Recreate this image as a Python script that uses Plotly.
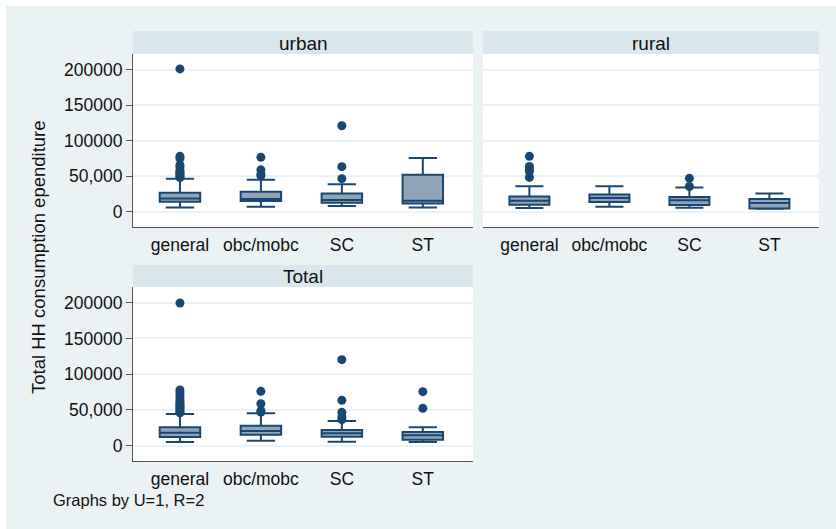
import plotly.graph_objects as go

W, H = 836, 529

categories = ["general", "obc/mobc", "SC", "ST"]

# ---- box statistics ----
urban_q1 = [14000, 15000, 12700, 11700]
urban_median = [18700, 17900, 16400, 15500]
urban_q3 = [26800, 28200, 25800, 52000]
urban_low = [6000, 7000, 8000, 6000]
urban_high = [46500, 45000, 38500, 75600]

rural_q1 = [9800, 13600, 9400, 4700]
rural_median = [15500, 19200, 16000, 12200]
rural_q3 = [21600, 24400, 20700, 17900]
rural_low = [5200, 7000, 5600, 4200]
rural_high = [35700, 35700, 34000, 25800]

total_q1 = [12100, 15400, 12600, 8400]
total_median = [18200, 20500, 17200, 14400]
total_q3 = [25600, 28000, 21900, 19100]
total_low = [5100, 7000, 5600, 5100]
total_high = [44300, 45200, 34500, 25600]

# ---- outside values ----
urban_general_out = [48000, 50000, 52000, 54000, 56000, 58000, 63000, 66000, 75000, 78000, 201000]
urban_obc_out = [50500, 53000, 59000, 76500]
urban_sc_out = [46500, 63400, 121000]
urban_st_out = []

rural_general_out = [48300, 57000, 60000, 63800, 78000]
rural_obc_out = []
rural_sc_out = [35500, 47000]
rural_st_out = []

total_general_out = [46000, 48000, 50000, 52000, 54000, 56000, 58000, 60000, 63000,
                     66000, 70000, 74000, 78000, 199600]
total_obc_out = [47000, 49000, 58700, 76000]
total_sc_out = [36400, 40000, 46600, 63400, 120300]
total_st_out = [52200, 75500]

ytick_vals = [0, 50000, 100000, 150000, 200000]
ytick_text = ["0", "50,000", "100000", "150000", "200000"]

panel_titles = ["urban", "rural", "Total"]
y_title = "Total HH consumption ependiture"
note = "Graphs by U=1, R=2"

NAVY = "#1A476F"
FILL = "#90A4B9"
OUTER = "#EAF2F3"
STRIP = "#D9E6EB"
GRID = "#EAF2F3"
AXIS = "#555555"
FONT = "Arial, Liberation Sans, sans-serif"


def px(x):
    return x / W


def py(y):
    return 1 - y / H


panels = [
    (panel_titles[0], "x", "y", 133, 473, 31, 54, 227, True,
     (urban_q1, urban_median, urban_q3, urban_low, urban_high),
     [urban_general_out, urban_obc_out, urban_sc_out, urban_st_out]),
    (panel_titles[1], "x2", "y2", 483, 819, 31, 54, 227, False,
     (rural_q1, rural_median, rural_q3, rural_low, rural_high),
     [rural_general_out, rural_obc_out, rural_sc_out, rural_st_out]),
    (panel_titles[2], "x3", "y3", 133, 473, 265, 287, 461, True,
     (total_q1, total_median, total_q3, total_low, total_high),
     [total_general_out, total_obc_out, total_sc_out, total_st_out]),
]

fig = go.Figure()
shapes = []
annotations = []

shapes.append(dict(type="rect", xref="paper", yref="paper", x0=px(6), x1=1, y0=0, y1=py(6),
                   fillcolor=OUTER, line=dict(width=0), layer="below"))

layout_axes = {}
for i, (title, xa, ya, x0, x1, st, pt, pb, showy, stats, outs) in enumerate(panels):
    q1, med, q3, lo, hi = stats
    fig.add_trace(go.Box(
        x=categories, q1=q1, median=med, q3=q3, lowerfence=lo, upperfence=hi,
        xaxis=xa, yaxis=ya, width=0.5, whiskerwidth=0.7,
        fillcolor=FILL, line=dict(color=NAVY, width=2), boxpoints=False,
        showlegend=False, hoverinfo="skip"))
    ox, oy = [], []
    for c, vals in zip(categories, outs):
        for v in vals:
            ox.append(c)
            oy.append(v)
    fig.add_trace(go.Scatter(
        x=ox, y=oy, mode="markers", xaxis=xa, yaxis=ya,
        marker=dict(color=NAVY, size=9, line=dict(width=0)),
        showlegend=False, hoverinfo="skip"))

    shapes.append(dict(type="rect", xref="paper", yref="paper",
                       x0=px(x0), x1=px(x1), y0=py(pb), y1=py(pt),
                       fillcolor="white", line=dict(width=0), layer="below"))
    shapes.append(dict(type="rect", xref="paper", yref="paper",
                       x0=px(x0), x1=px(x1), y0=py(pt), y1=py(st),
                       fillcolor=STRIP, line=dict(width=0), layer="below"))
    annotations.append(dict(text=title, xref="paper", yref="paper",
                            x=px((x0 + x1) / 2), y=py((st + pt) / 2 + 0.5),
                            xanchor="center", yanchor="middle", showarrow=False,
                            font=dict(size=19, color="#111111", family=FONT)))

    xkey = "xaxis" if xa == "x" else "xaxis" + xa[1:]
    ykey = "yaxis" if ya == "y" else "yaxis" + ya[1:]
    layout_axes[xkey] = dict(
        domain=[px(x0), px(x1)], anchor=ya, type="category",
        categoryorder="array", categoryarray=categories,
        range=[-0.58, 3.62], showgrid=False, zeroline=False,
        showline=True, linecolor=AXIS, linewidth=1, ticks="",
        tickfont=dict(size=17.5, color="#111111", family=FONT),
        ticklabelstandoff=2, fixedrange=True)
    layout_axes[ykey] = dict(
        domain=[py(pb), py(pt)], anchor=xa, range=[-21500, 222000],
        tickvals=ytick_vals, ticktext=ytick_text, showticklabels=showy,
        ticks="outside" if showy else "", ticklen=6, tickcolor=AXIS, tickwidth=1,
        showline=showy, linecolor=AXIS, linewidth=1,
        showgrid=True, gridcolor=GRID, gridwidth=1.5, zeroline=False,
        tickfont=dict(size=17.5, color="#111111", family=FONT), fixedrange=True)

annotations.append(dict(text=y_title, xref="paper", yref="paper",
                        x=px(38), y=py(257), textangle=-90,
                        xanchor="center", yanchor="middle", showarrow=False,
                        font=dict(size=18.5, color="#111111", family=FONT)))
annotations.append(dict(text=note, xref="paper", yref="paper",
                        x=px(51), y=py(500), xanchor="left", yanchor="middle",
                        showarrow=False,
                        font=dict(size=16.5, color="#111111", family=FONT)))

fig.update_layout(
    width=W, height=H, margin=dict(l=0, r=0, t=0, b=0),
    paper_bgcolor="white", plot_bgcolor="rgba(0,0,0,0)",
    shapes=shapes, annotations=annotations, boxmode="overlay",
    **layout_axes)

fig.write_html("out.html", config={"displayModeBar": False},
               post_script="document.body.style.margin='0';document.body.style.padding='0';")
